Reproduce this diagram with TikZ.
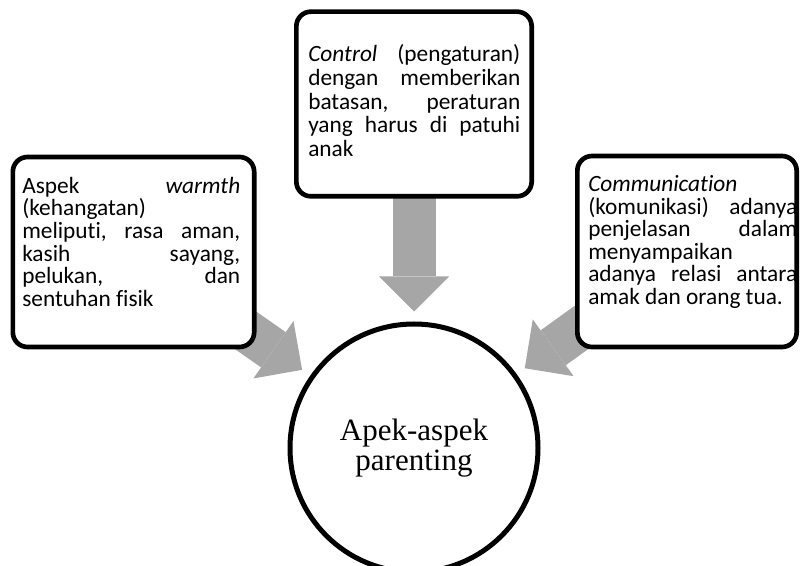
\documentclass[tikz,border=0pt]{standalone}
\usepackage{fontspec}
\newfontfamily\panelfont[Ligatures=NoCommon]{Carlito}
\newfontfamily\hubfont{Liberation Serif}
\usepackage{xcolor}
\definecolor{arrowGray}{RGB}{166,166,166}
\usetikzlibrary{arrows.meta, backgrounds}

\begin{document}
\begin{tikzpicture}[
    x=0.75pt, y=-0.75pt,
    panel/.style={
      rectangle, draw=black, fill=white, rounded corners=11pt,
      line width=3.5pt, inner sep=0pt
    },
    paneltext/.style={
      anchor=north west, inner sep=0pt, align=flush left,
      font=\panelfont\fontsize{17.5pt}{16.9pt}\selectfont
    },
    hub/.style={
      circle, draw=black, fill=white, line width=3.75pt,
      minimum size=186pt, inner sep=0pt, align=center,
      font=\hubfont\fontsize{23.25pt}{23pt}\selectfont
    },
    bigarrow/.style={
      arrowGray, line width=32.25pt,
      -{Triangle[length=26.25pt, width=52.5pt, line width=0pt]},
      shorten >=7.5pt
    },
  ]
  \useasboundingbox (0,0) rectangle (800,566);

  % Centre
  \node[hub] (parent) at (414,448) {Apek-aspek\\parenting};

  % Boxes
  \node[panel, minimum width=181pt, minimum height=142.5pt] (warmbox) at (133.5,252) {};
  \node[panel, minimum width=176.5pt, minimum height=138.5pt] (ctrlbox) at (414,104) {};
  \node[panel, minimum width=164.5pt, minimum height=143.25pt] (commbox) at (687,251.5) {};

  % Box texts
  \node[paneltext, text width=163.5pt] (warmtext) at (22,177)
    {Aspek\hfill\textit{warmth}\\
     (kehangatan)\\
     meliputi,\hfill rasa\hfill aman,\\
     kasih\hfill sayang,\\
     pelukan,\hfill dan\\
     sentuhan fisik};
  \node[paneltext, text width=159pt,
        font=\panelfont\fontsize{17.5pt}{17.9pt}\selectfont] (ctrltext) at (308,44)
    {\textit{Control}\hfill (pengaturan)\\
     dengan\hfill memberikan\\
     batasan,\hfill peraturan\\
     yang\hfill harus\hfill di\hfill patuhi\\
     anak};
  \node[paneltext, text width=156.75pt] (commtext) at (588,175.5)
    {\textit{Communication}\\
     (komunikasi)\hfill adanya\\
     penjelasan\hfill dalam\\
     menyampaikan\\
     adanya\hfill relasi\hfill antara\\
     amak dan orang tua.};

  % Arrows
  \begin{scope}[on background layer]
    \draw[bigarrow] (warmbox.center) -- (parent);
    \draw[bigarrow] (ctrlbox.center) -- (parent);
    \draw[bigarrow] (commbox.center) -- (parent);
  \end{scope}
\end{tikzpicture}
\end{document}
